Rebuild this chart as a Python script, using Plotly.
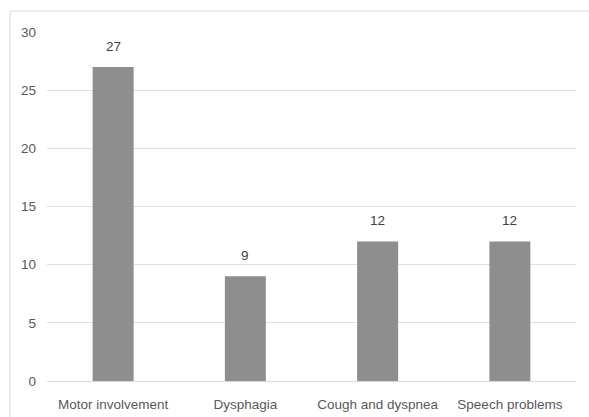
import plotly.graph_objects as go

categories = ["Motor involvement", "Dysphagia", "Cough and dyspnea", "Speech problems"]
counts = [27, 9, 12, 12]
y_ticks = [0, 5, 10, 15, 20, 25, 30]

W, H = 589, 417
m_l, m_r, m_t, m_b = 47, 13, 32, 36
plot_w = W - m_l - m_r
plot_h = H - m_t - m_b

font_family = "Liberation Sans, Arial, sans-serif"
text_color = "#595959"
fsize = 13.5

fig = go.Figure(
    go.Bar(
        x=categories,
        y=counts,
        marker=dict(color="#8e8e8e", line=dict(width=0)),
        width=0.31,
        hoverinfo="x+y",
    )
)

# value labels above each bar
for cat, val in zip(categories, counts):
    fig.add_annotation(
        x=cat, y=val, text=str(val), showarrow=False,
        yanchor="bottom", yshift=11,
        font=dict(family=font_family, size=fsize, color="#404040"),
    )

# light outer frame around the chart
fig.add_shape(
    type="rect", xref="paper", yref="paper",
    x0=(10 - m_l) / plot_w, x1=(W + 5 - m_l) / plot_w,
    y0=-(m_b + 10) / plot_h, y1=1 + (m_t - 11) / plot_h,
    line=dict(color="#d9d9d9", width=1), fillcolor="rgba(0,0,0,0)",
    layer="below",
)

fig.update_layout(
    width=W, height=H,
    margin=dict(l=m_l, r=m_r, t=m_t, b=m_b, autoexpand=False),
    paper_bgcolor="white", plot_bgcolor="white",
    showlegend=False,
    font=dict(family=font_family, size=fsize, color=text_color),
    xaxis=dict(showgrid=False, showline=False, zeroline=False, ticks="",
               ticklabelstandoff=13, automargin=False,
               tickfont=dict(size=fsize, color=text_color)),
    yaxis=dict(range=[0, 30], tickvals=y_ticks, showgrid=True,
               gridcolor="#e0e0e0", gridwidth=1, zeroline=True,
               zerolinecolor="#d9d9d9", zerolinewidth=1, showline=False,
               ticks="", ticklabelstandoff=10, automargin=False,
               tickfont=dict(size=fsize, color=text_color)),
)

fig.write_html("out.html")
